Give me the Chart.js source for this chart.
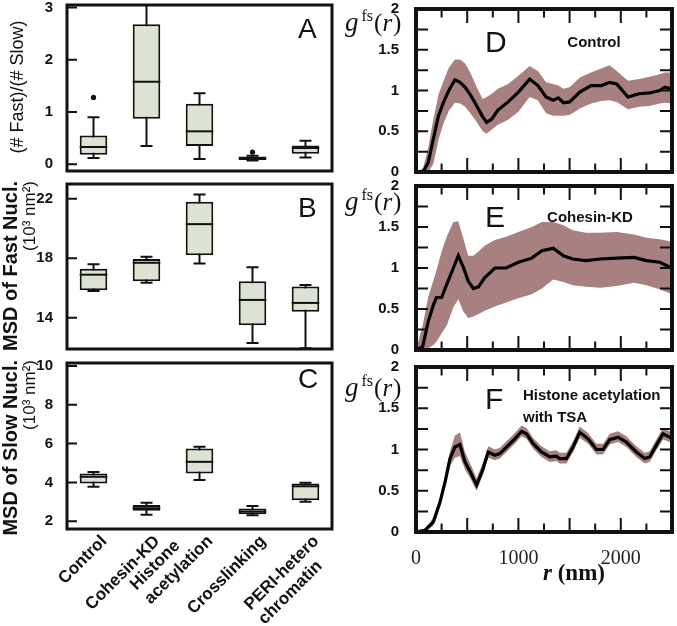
<!DOCTYPE html>
<html>
<head>
<meta charset="utf-8">
<script src="https://cdn.jsdelivr.net/npm/chart.js@4"></script>
<style>
  body { margin: 0; background: #fff; width: 677px; height: 626px; position: relative; overflow: hidden; }
  canvas { position: absolute; }
</style>
</head>
<body>
<canvas id="cA" width="340" height="178" style="left:0;top:0"></canvas>
<canvas id="cB" width="340" height="180" style="left:0;top:178px"></canvas>
<canvas id="cC" width="340" height="268" style="left:0;top:358px"></canvas>
<canvas id="cD" width="337" height="178" style="left:340px;top:0"></canvas>
<canvas id="cE" width="337" height="180" style="left:340px;top:178px"></canvas>
<canvas id="cF" width="337" height="268" style="left:340px;top:358px"></canvas>
<script>
// categories of the box plots
const groups = ['Control', 'Cohesin-KD', ['Histone', 'acetylation'], 'Crosslinking', ['PERI-hetero', 'chromatin']];

// box stats per group: [low whisker, Q1, median, Q3, high whisker]
const ratioBoxes = [[0.12, 0.18, 0.33, 0.55, 0.90], [0.35, 0.87, 1.58, 2.68, 3.3], [0.10, 0.35, 0.63, 1.16, 1.36], [0.07, 0.08, 0.11, 0.15, 0.16], [0.13, 0.20, 0.31, 0.36, 0.45]];
const ratioOutliers = [1.28, null, null, 0.23, null];
const ratioTicks = [0, 1, 2, 3];

const fastBoxes = [[15.8, 15.85, 16.9, 17.3, 17.6], [16.35, 16.45, 17.7, 17.95, 18.1], [17.65, 18.2, 20.3, 21.8, 22.3], [12.3, 13.5, 15.2, 16.45, 17.4], [11.95, 14.4, 15.0, 16.1, 16.2]];
const fastTicks = [14, 18, 22];

const slowBoxes = [[3.77, 3.94, 4.29, 4.46, 4.54], [2.33, 2.54, 2.67, 2.83, 2.95], [4.12, 4.46, 5.06, 5.75, 5.83], [2.31, 2.36, 2.5, 2.66, 2.78], [3.0, 3.08, 3.8, 3.94, 3.98]];
const slowTicks = [2, 4, 6, 8, 10];

// g^fs(r) curves: r (nm), mean, lower and upper band
const rD = [0, 70, 120, 170, 220, 270, 320, 380, 430, 480, 530, 590, 650, 690, 740, 800, 900, 1000, 1110, 1190, 1270, 1340, 1390, 1440, 1500, 1600, 1710, 1810, 1890, 1960, 2070, 2180, 2280, 2380, 2430, 2500];
const meanD = [0, 0, 0.12, 0.41, 0.69, 0.86, 1.0, 1.13, 1.10, 1.04, 0.95, 0.82, 0.68, 0.61, 0.65, 0.76, 0.86, 0.98, 1.14, 1.06, 0.92, 0.88, 0.91, 0.85, 0.86, 0.98, 1.06, 1.06, 1.10, 1.08, 0.92, 0.96, 0.97, 1.00, 1.04, 1.02];
const loD = [0, 0, 0, 0.1, 0.4, 0.6, 0.75, 0.85, 0.84, 0.80, 0.72, 0.62, 0.50, 0.47, 0.52, 0.58, 0.64, 0.74, 0.92, 0.88, 0.72, 0.69, 0.69, 0.69, 0.70, 0.78, 0.84, 0.87, 0.88, 0.86, 0.77, 0.80, 0.81, 0.84, 0.85, 0.84];
const hiD = [0, 0.05, 0.3, 0.65, 0.95, 1.12, 1.28, 1.38, 1.38, 1.33, 1.22, 1.05, 0.90, 0.92, 0.96, 1.02, 1.08, 1.18, 1.30, 1.24, 1.10, 1.08, 1.06, 1.02, 1.04, 1.16, 1.22, 1.27, 1.31, 1.24, 1.12, 1.14, 1.17, 1.20, 1.22, 1.22];

const rE = [0, 65, 120, 170, 200, 250, 300, 365, 413, 462, 510, 560, 610, 670, 770, 880, 1000, 1130, 1230, 1340, 1440, 1530, 1660, 1800, 1960, 2130, 2250, 2380, 2500];
const meanE = [0, 0.04, 0.35, 0.55, 0.64, 0.64, 0.80, 1.0, 1.15, 1.01, 0.84, 0.75, 0.77, 0.88, 1.0, 1.0, 1.07, 1.12, 1.21, 1.24, 1.15, 1.11, 1.09, 1.11, 1.12, 1.13, 1.09, 1.07, 1.0];
const loE = [0, 0, 0.02, 0.06, 0.1, 0.2, 0.3, 0.52, 0.62, 0.47, 0.39, 0.41, 0.44, 0.48, 0.53, 0.58, 0.63, 0.68, 0.75, 0.86, 0.83, 0.79, 0.77, 0.76, 0.78, 0.82, 0.79, 0.74, 0.68];
const hiE = [0, 0.3, 0.65, 0.85, 0.97, 1.2, 1.38, 1.56, 1.57, 1.36, 1.15, 1.15, 1.2, 1.27, 1.34, 1.38, 1.44, 1.50, 1.56, 1.56, 1.52, 1.46, 1.43, 1.43, 1.44, 1.41, 1.37, 1.35, 1.32];

const rF = [0, 88, 169, 234, 283, 332, 380, 429, 478, 526, 592, 656, 705, 770, 819, 884, 965, 1030, 1079, 1144, 1225, 1306, 1371, 1404, 1469, 1534, 1599, 1680, 1762, 1827, 1892, 1973, 2054, 2151, 2233, 2282, 2347, 2412, 2476, 2500];
const meanF = [0, 0.02, 0.12, 0.36, 0.60, 0.89, 1.03, 1.06, 0.85, 0.74, 0.57, 0.77, 0.97, 0.93, 0.95, 1.03, 1.13, 1.22, 1.19, 1.07, 0.97, 0.91, 0.92, 0.89, 0.89, 1.03, 1.21, 1.13, 1.0, 1.0, 1.12, 1.15, 1.09, 0.97, 0.89, 0.91, 1.05, 1.19, 1.15, 1.13];
const loF = [0, 0, 0.08, 0.31, 0.54, 0.80, 0.90, 0.92, 0.76, 0.66, 0.50, 0.70, 0.90, 0.87, 0.89, 0.97, 1.07, 1.16, 1.13, 1.01, 0.91, 0.85, 0.86, 0.83, 0.83, 0.97, 1.14, 1.07, 0.94, 0.94, 1.06, 1.09, 1.03, 0.91, 0.83, 0.85, 0.99, 1.12, 1.09, 1.07];
const hiF = [0, 0.05, 0.17, 0.42, 0.68, 0.98, 1.17, 1.21, 0.97, 0.84, 0.65, 0.85, 1.04, 1.00, 1.02, 1.10, 1.20, 1.29, 1.26, 1.14, 1.04, 0.98, 0.99, 0.96, 0.96, 1.10, 1.28, 1.20, 1.07, 1.07, 1.19, 1.22, 1.16, 1.04, 0.96, 0.98, 1.12, 1.26, 1.22, 1.20];

const gTicks = [0, 0.5, 1, 1.5, 2];
const gMinor = [0.25, 0.5, 0.75, 1, 1.25, 1.5, 1.75];
const rTicks = [0, 1000, 2000];
const rMinor = [250, 500, 750, 1000, 1250, 1500, 1750, 2000, 2250];

const SANS = '"Liberation Sans", Arial, sans-serif';
const SERIF = '"Liberation Serif", "Times New Roman", serif';
const BOX_FILL = '#dde3d3';
const BAND = '#a88080';

// whiskers, medians and outliers around the floating bars
const boxPlugin = {
  id: 'boxes',
  beforeDatasetsDraw(chart, args, o) {
    const { ctx, chartArea: a, scales: { x, y } } = chart;
    ctx.save();
    ctx.beginPath(); ctx.rect(a.left, a.top, a.width, a.height); ctx.clip();
    ctx.strokeStyle = '#111'; ctx.lineWidth = 2;
    ctx.beginPath();
    o.stats.forEach((s, i) => {
      const px = x.getPixelForValue(i);
      const yl = y.getPixelForValue(s[0]), yh = y.getPixelForValue(s[4]);
      ctx.moveTo(px, yl); ctx.lineTo(px, yh);
      ctx.moveTo(px - 6, yl); ctx.lineTo(px + 6, yl);
      ctx.moveTo(px - 6, yh); ctx.lineTo(px + 6, yh);
    });
    ctx.stroke();
    ctx.restore();
  },
  afterDatasetsDraw(chart, args, o) {
    const { ctx, scales: { y } } = chart;
    const meta = chart.getDatasetMeta(0);
    ctx.save();
    ctx.strokeStyle = '#111'; ctx.lineWidth = 2;
    o.stats.forEach((s, i) => {
      const bar = meta.data[i];
      const py = y.getPixelForValue(s[2]);
      ctx.beginPath();
      ctx.moveTo(bar.x - bar.width / 2, py); ctx.lineTo(bar.x + bar.width / 2, py);
      ctx.stroke();
      const out = o.outliers ? o.outliers[i] : null;
      if (out != null) {
        ctx.fillStyle = '#111';
        ctx.beginPath(); ctx.arc(bar.x, y.getPixelForValue(out), 2.6, 0, Math.PI * 2); ctx.fill();
      }
    });
    ctx.restore();
  }
};

// thick frame with inward ticks
const framePlugin = {
  id: 'frame',
  afterDraw(chart, args, o) {
    const { ctx, chartArea: a, scales } = chart;
    ctx.save();
    ctx.strokeStyle = '#111';
    ctx.lineWidth = 2;
    ctx.beginPath();
    (o.yTicks || []).forEach(v => {
      const py = scales.y.getPixelForValue(v);
      ctx.moveTo(a.left, py); ctx.lineTo(a.left + o.yLen, py);
      if (o.both) { ctx.moveTo(a.right, py); ctx.lineTo(a.right - o.yLen, py); }
    });
    (o.xTicks || []).forEach(v => {
      const px = scales.x.getPixelForValue(v);
      const len = v % 500 === 0 ? o.xLen : o.xLen * 0.6;
      ctx.moveTo(px, a.bottom); ctx.lineTo(px, a.bottom - len);
      ctx.moveTo(px, a.top); ctx.lineTo(px, a.top + len);
    });
    ctx.stroke();
    ctx.lineWidth = o.width;
    ctx.strokeRect(a.left, a.top, a.width, a.height);
    ctx.restore();
  }
};

function drawGfs(ctx, x, base) {
  ctx.save();
  ctx.fillStyle = '#111';
  ctx.textBaseline = 'alphabetic';
  ctx.font = 'italic 27px ' + SERIF;
  ctx.fillText('g', x, base);
  x += ctx.measureText('g').width + 3;
  ctx.font = '16px ' + SERIF;
  ctx.fillText('fs', x, base - 10);
  x += ctx.measureText('fs').width + 1;
  ctx.font = '25px ' + SERIF;
  ctx.fillText('(', x, base);
  x += ctx.measureText('(').width;
  ctx.font = 'italic 25px ' + SERIF;
  ctx.fillText('r', x, base);
  x += ctx.measureText('r').width + 1;
  ctx.font = '25px ' + SERIF;
  ctx.fillText(')', x, base);
  ctx.restore();
}

const notesPlugin = {
  id: 'notes',
  afterDraw(chart, args, o) {
    const ctx = chart.ctx;
    (o.items || []).forEach(it => {
      ctx.save();
      ctx.font = it.font;
      ctx.fillStyle = '#111';
      ctx.textAlign = it.align || 'left';
      ctx.textBaseline = it.base || 'alphabetic';
      ctx.translate(it.x, it.y);
      if (it.rot) ctx.rotate(it.rot);
      ctx.fillText(it.t, 0, 0);
      ctx.restore();
    });
    if (o.cats) {
      // rotated category names, lines left aligned, longest line ending under the box
      const x = chart.scales.x, a = chart.chartArea;
      ctx.save();
      ctx.font = 'bold 17px ' + SANS;
      ctx.fillStyle = '#111';
      ctx.textBaseline = 'alphabetic';
      ctx.textAlign = 'left';
      groups.forEach((g, i) => {
        const lines = Array.isArray(g) ? g : [g];
        const w = lines.map(l => ctx.measureText(l).width);
        const k = w.indexOf(Math.max(...w));
        ctx.save();
        ctx.translate(x.getPixelForValue(i) + 14, a.bottom + 13);
        ctx.rotate(-Math.PI / 4);
        lines.forEach((l, j) => ctx.fillText(l, -w[k], (j - k) * 20));
        ctx.restore();
      });
      ctx.restore();
    }
    if (o.gfs) drawGfs(ctx, o.gfs[0], o.gfs[1]);
    if (o.rTitle) {
      ctx.save();
      ctx.fillStyle = '#111';
      ctx.textBaseline = 'alphabetic';
      let x = o.rTitle[0];
      ctx.font = 'italic bold 23px ' + SERIF;
      ctx.fillText('r', x, o.rTitle[1]);
      x += ctx.measureText('r ').width;
      ctx.font = 'bold 23px ' + SERIF;
      ctx.fillText('(nm)', x, o.rTitle[1]);
      ctx.restore();
    }
  }
};

function fixScale(size, key) {
  return s => {
    s[key] = size;
    s.paddingTop = 0; s.paddingBottom = 0; s.paddingLeft = 0; s.paddingRight = 0;
  };
}

const plain = v => String(v);

function boxChart(id, stats, outliers, yMin, yMax, ticks, area, cats, items) {
  const cv = document.getElementById(id);
  return new Chart(cv, {
    type: 'bar',
    data: {
      labels: groups,
      datasets: [{
        data: stats.map(s => [s[1], s[3]]),
        backgroundColor: BOX_FILL,
        borderColor: '#111',
        borderWidth: 2,
        borderSkipped: false,
        barPercentage: 0.52,
        categoryPercentage: 1
      }]
    },
    options: {
      responsive: false,
      animation: false,
      events: [],
      layout: { padding: { top: area.top, right: cv.width - area.right, left: 0, bottom: 0 } },
      scales: {
        x: {
          grid: { display: false }, border: { display: false },
          ticks: { display: false },
          afterFit: fixScale(cv.height - area.bottom, 'height')
        },
        y: {
          min: yMin, max: yMax,
          grid: { display: false }, border: { display: false },
          ticks: { color: '#111', padding: 6, callback: plain, font: { family: SANS, size: 15, weight: 'bold' } },
          afterBuildTicks: s => { s.ticks = ticks.map(v => ({ value: v })); },
          afterFit: fixScale(area.left, 'width')
        }
      },
      plugins: {
        legend: { display: false }, tooltip: { enabled: false },
        boxes: { stats, outliers },
        frame: { yTicks: ticks, yLen: 10, width: 3 },
        notes: { items, cats }
      }
    },
    plugins: [boxPlugin, framePlugin, notesPlugin]
  });
}

function curveChart(id, r, mean, lo, hi, area, showX, notes) {
  const cv = document.getElementById(id);
  const pts = arr => r.map((x, i) => ({ x, y: arr[i] }));
  return new Chart(cv, {
    type: 'line',
    data: {
      datasets: [
        { data: pts(mean), borderColor: '#000', borderWidth: 3.2, pointRadius: 0, fill: false },
        { data: pts(lo), borderWidth: 0, pointRadius: 0, fill: false },
        { data: pts(hi), borderWidth: 0, pointRadius: 0, fill: '-1', backgroundColor: BAND }
      ]
    },
    options: {
      responsive: false,
      animation: false,
      events: [],
      layout: { padding: { top: area.top, right: cv.width - area.right, left: 0, bottom: 0 } },
      scales: {
        x: {
          type: 'linear', min: 0, max: 2500,
          grid: { display: false }, border: { display: false },
          ticks: { display: showX, color: '#222', padding: 7, maxRotation: 0, callback: plain, font: { family: SERIF, size: 20 } },
          afterBuildTicks: s => { s.ticks = rTicks.map(v => ({ value: v })); },
          afterFit: fixScale(cv.height - area.bottom, 'height')
        },
        y: {
          min: 0, max: 2,
          grid: { display: false }, border: { display: false },
          ticks: { color: '#111', padding: 9, callback: plain, font: { family: SANS, size: 15, weight: 'bold' } },
          afterBuildTicks: s => { s.ticks = gTicks.map(v => ({ value: v })); },
          afterFit: fixScale(area.left, 'width')
        }
      },
      plugins: {
        legend: { display: false }, tooltip: { enabled: false },
        filler: { propagate: false },
        frame: { yTicks: gMinor, yLen: 12, both: true, xTicks: rMinor, xLen: 14, width: 4 },
        notes
      }
    },
    plugins: [framePlugin, notesPlugin]
  });
}

const L = '28px ' + SANS;
const N = 'bold 15px ' + SANS;
const UP = -Math.PI / 2;

boxChart('cA', ratioBoxes, ratioOutliers, -0.13, 3.05, ratioTicks, { left: 67, right: 332, top: 5, bottom: 171 }, false, [
  { t: '(# Fast)/(# Slow)', x: 18, y: 87, rot: UP, align: 'center', base: 'middle', font: '18px ' + SANS },
  { t: 'A', x: 298, y: 38, font: L }
]);
boxChart('cB', fastBoxes, null, 11.9, 23.0, fastTicks, { left: 67, right: 332, top: 6, bottom: 171 }, false, [
  { t: 'MSD of Fast Nucl.', x: 11, y: 3, rot: UP, align: 'right', base: 'middle', font: 'bold 20px ' + SANS },
  { t: '(10\u00b3 nm\u00b2)', x: 30, y: 3, rot: UP, align: 'right', base: 'middle', font: '17px ' + SANS },
  { t: 'B', x: 298, y: 39, font: L }
]);
boxChart('cC', slowBoxes, null, 1.6, 10.15, slowTicks, { left: 67, right: 332, top: 5, bottom: 171 }, true, [
  { t: 'MSD of Slow Nucl.', x: 11, y: 2, rot: UP, align: 'right', base: 'middle', font: 'bold 20px ' + SANS },
  { t: '(10\u00b3 nm\u00b2)', x: 30, y: 2, rot: UP, align: 'right', base: 'middle', font: '17px ' + SANS },
  { t: 'C', x: 298, y: 30, font: L }
]);

curveChart('cD', rD, meanD, loD, hiD, { left: 76, right: 332, top: 9, bottom: 172 }, false, {
  items: [{ t: 'D', x: 145, y: 52, font: '30px ' + SANS }, { t: 'Control', x: 254, y: 47, align: 'center', font: N }],
  gfs: [5, 31]
});
curveChart('cE', rE, meanE, loE, hiE, { left: 76, right: 332, top: 8, bottom: 172 }, false, {
  items: [{ t: 'E', x: 145, y: 49, font: '30px ' + SANS }, { t: 'Cohesin-KD', x: 250, y: 44, align: 'center', font: N }],
  gfs: [5, 32]
});
curveChart('cF', rF, meanF, loF, hiF, { left: 76, right: 332, top: 9, bottom: 174 }, true, {
  items: [
    { t: 'F', x: 145, y: 51, font: '30px ' + SANS },
    { t: 'Histone acetylation', x: 183, y: 42, font: N },
    { t: 'with TSA', x: 183, y: 64, font: N }
  ],
  gfs: [5, 38],
  rTitle: [203, 222]
});
</script>
</body>
</html>
